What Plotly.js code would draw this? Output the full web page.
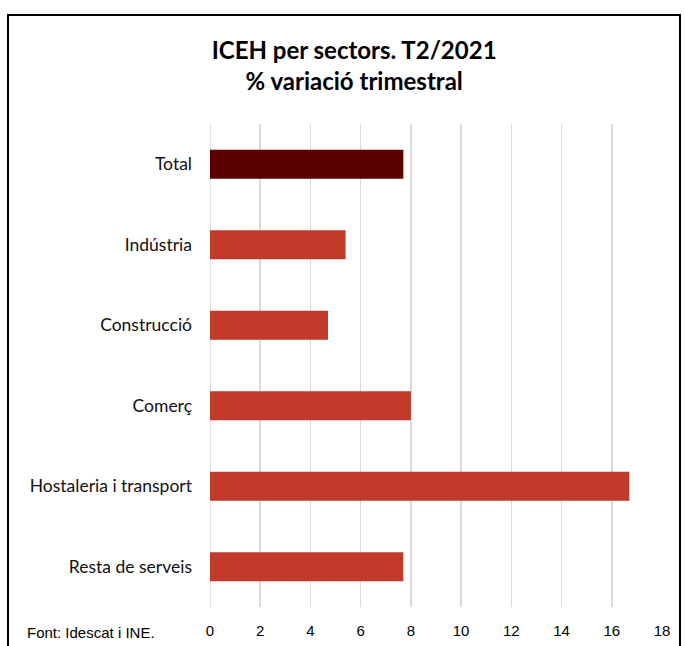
<!DOCTYPE html>
<html><head><meta charset="utf-8">
<script src="https://cdn.plot.ly/plotly-3.0.1.min.js"></script>
<style>
html,body{margin:0;padding:0;background:#fff;}
#wrap{position:relative;width:685px;height:646px;overflow:hidden;}
#frame{position:absolute;left:7px;top:14px;width:674px;height:660px;border:2px solid #000;box-sizing:border-box;pointer-events:none;z-index:5;}
#chart{position:absolute;left:0;top:0;width:685px;height:646px;}
</style></head>
<body><div id="wrap"><div id="chart"></div><div id="frame"></div></div>
<script>
const categories = ["Total","Indústria","Construcció","Comerç","Hostaleria i transport","Resta de serveis"];
const values = [7.7, 5.4, 4.7, 8.0, 16.7, 7.7];
const barColors = ["#5a0000","#c13a2c","#c13a2c","#c13a2c","#c13a2c","#c13a2c"];
const xTicks = [0,2,4,6,8,10,12,14,16,18];

const trace = {
  type: 'bar', orientation: 'h',
  x: values, y: categories,
  marker: {color: barColors, line:{width:0}},
  width: 0.36, hoverinfo: 'x+y'
};
const layout = {
  width: 685, height: 646,
  margin: {l: 210, r: 23, t: 124, b: 39},
  paper_bgcolor: '#fff', plot_bgcolor: '#fff',
  title: {text: "ICEH per sectors. T2/2021<br>% variació trimestral", x: 0.517, xref: 'container', xanchor: 'center', y: 0.909, yref:'container', yanchor:'top',
          font: {family: "Lato, 'Liberation Sans', sans-serif", size: 24, color: '#000', weight: 'bold'}},
  xaxis: {range: [0, 18], tickvals: xTicks, ticktext: xTicks.map(String), showgrid: true, gridcolor: '#d9d9d9', gridwidth: 1.5,
          zeroline: false, showline: false, ticks: '', ticklabelstandoff: 13, fixedrange: true,
          tickfont: {family: "'Liberation Sans Narrow', 'Liberation Sans', sans-serif", size: 15, color: '#000'}},
  yaxis: {autorange: 'reversed', categoryorder: 'array', categoryarray: categories, showgrid: false, zeroline: false, showline: false,
          ticks: '', ticklabelstandoff: 17, fixedrange: true,
          tickfont: {family: "Lato, 'Liberation Sans', sans-serif", size: 17.5, color: '#111'}},
  shapes: [{type:'line', xref:'x', yref:'paper', x0:0, x1:0, y0:0, y1:1, line:{color:'#d9d9d9', width:1.5}, layer:'below'}],
  annotations: [{text: "Font: Idescat i INE.", xref: 'paper', yref: 'paper', x: -0.41, xanchor: 'left', y: -0.052, yanchor: 'middle', showarrow: false,
                 font: {family: "'Liberation Sans Narrow', 'Liberation Sans', sans-serif", size: 15, color: '#000'}}],
  showlegend: false, bargap: 0.64
};
Plotly.newPlot('chart', [trace], layout, {displayModeBar: false, staticPlot: true});
</script></body></html>
